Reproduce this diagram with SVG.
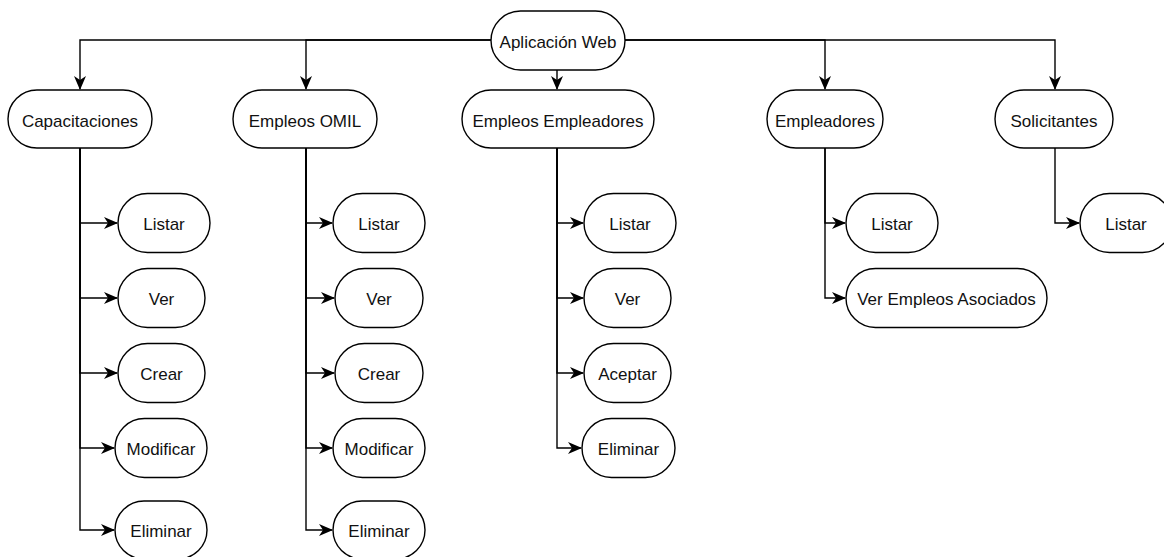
<svg xmlns="http://www.w3.org/2000/svg" width="1164" height="557" viewBox="0 0 1164 557">
<style>
.n rect{fill:#fff;stroke:#000;stroke-width:1.4}
.n text{font-family:"Liberation Sans",Arial,sans-serif;font-size:17px;fill:#111;text-anchor:middle}
.e path{fill:none;stroke:#000;stroke-width:1.4;marker-end:url(#arr)}
</style>
<defs>
<marker id="arr" viewBox="0 0 14 12" refX="13" refY="6" markerWidth="14" markerHeight="12" markerUnits="userSpaceOnUse" orient="auto">
<path d="M0,0 L14,6 L0,12 L4,6 Z" fill="#000"/>
</marker>
</defs>
<rect width="1164" height="557" fill="#fff"/>
<g class="e" id="connectors">
<path d="M491,40 H80 V89"/>
<path d="M491,40 H306 V89"/>
<path d="M557,70 V89"/>
<path d="M625,40 H825 V89"/>
<path d="M625,40 H1055 V89"/>
<path d="M80,148 V223 H117"/>
<path d="M80,148 V298 H117"/>
<path d="M80,148 V373 H117"/>
<path d="M80,148 V448 H114"/>
<path d="M80,148 V530 H114"/>
<path d="M306,148 V223 H332"/>
<path d="M306,148 V298 H334"/>
<path d="M306,148 V373 H334"/>
<path d="M306,148 V448 H332"/>
<path d="M306,148 V530 H332"/>
<path d="M557,148 V223 H583"/>
<path d="M557,148 V298 H583"/>
<path d="M557,148 V373 H583"/>
<path d="M557,148 V448 H581"/>
<path d="M825,148 V223 H845"/>
<path d="M825,148 V298 H845"/>
<path d="M1055,148 V223 H1079"/>
</g>
<g class="n" id="root"><rect x="491" y="11" width="134" height="59" rx="29.5"/><text x="558" y="48">Aplicación Web</text></g>
<g class="n" id="capacitaciones"><rect x="8" y="90" width="144" height="58" rx="29"/><text x="80" y="127">Capacitaciones</text></g>
<g class="n" id="empleos-omil"><rect x="233" y="90" width="144" height="58" rx="29"/><text x="305" y="127">Empleos OMIL</text></g>
<g class="n" id="empleos-empleadores"><rect x="462" y="90" width="192" height="58" rx="29"/><text x="558" y="127">Empleos Empleadores</text></g>
<g class="n" id="empleadores"><rect x="767" y="90" width="116" height="58" rx="29"/><text x="825" y="127">Empleadores</text></g>
<g class="n" id="solicitantes"><rect x="995" y="90" width="118" height="58" rx="29"/><text x="1054" y="127">Solicitantes</text></g>

<g class="n" id="cap-listar"><rect x="118" y="193.5" width="92" height="59" rx="29.5"/><text x="164" y="230">Listar</text></g>
<g class="n" id="cap-ver"><rect x="118" y="268.5" width="87" height="59" rx="29.5"/><text x="161.5" y="305">Ver</text></g>
<g class="n" id="cap-crear"><rect x="118" y="343.5" width="87" height="59" rx="29.5"/><text x="161.5" y="380">Crear</text></g>
<g class="n" id="cap-modificar"><rect x="115" y="418.5" width="92" height="59" rx="29.5"/><text x="161" y="455">Modificar</text></g>
<g class="n" id="cap-eliminar"><rect x="115" y="501" width="92" height="58" rx="29"/><text x="161" y="537">Eliminar</text></g>

<g class="n" id="omil-listar"><rect x="333" y="193.5" width="92" height="59" rx="29.5"/><text x="379" y="230">Listar</text></g>
<g class="n" id="omil-ver"><rect x="335" y="268.5" width="88" height="59" rx="29.5"/><text x="379" y="305">Ver</text></g>
<g class="n" id="omil-crear"><rect x="335" y="343.5" width="88" height="59" rx="29.5"/><text x="379" y="380">Crear</text></g>
<g class="n" id="omil-modificar"><rect x="333" y="418.5" width="92" height="59" rx="29.5"/><text x="379" y="455">Modificar</text></g>
<g class="n" id="omil-eliminar"><rect x="333" y="501" width="92" height="58" rx="29"/><text x="379" y="537">Eliminar</text></g>

<g class="n" id="ee-listar"><rect x="584" y="193.5" width="92" height="59" rx="29.5"/><text x="630" y="230">Listar</text></g>
<g class="n" id="ee-ver"><rect x="584" y="268.5" width="87" height="59" rx="29.5"/><text x="627.5" y="305">Ver</text></g>
<g class="n" id="ee-aceptar"><rect x="584" y="343.5" width="87" height="59" rx="29.5"/><text x="627.5" y="380">Aceptar</text></g>
<g class="n" id="ee-eliminar"><rect x="582" y="418.5" width="93" height="59" rx="29.5"/><text x="628.5" y="455">Eliminar</text></g>

<g class="n" id="emp-listar"><rect x="846" y="193.5" width="92" height="59" rx="29.5"/><text x="892" y="230">Listar</text></g>
<g class="n" id="emp-ver-asociados"><rect x="846" y="268.5" width="201" height="59" rx="29.5"/><text x="946.5" y="305">Ver Empleos Asociados</text></g>

<g class="n" id="sol-listar"><rect x="1080" y="193.5" width="92" height="59" rx="29.5"/><text x="1126" y="230">Listar</text></g>
</svg>
